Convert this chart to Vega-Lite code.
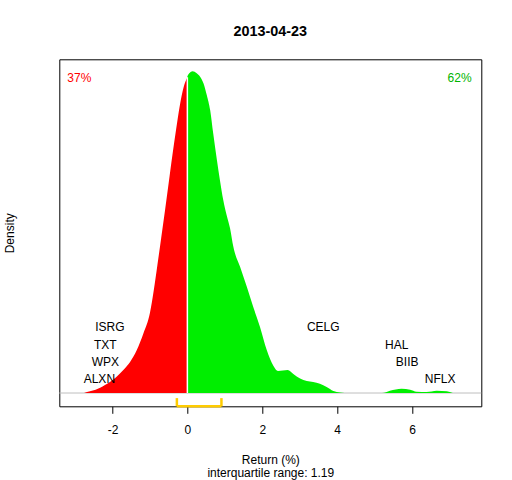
{
  "$schema": "https://vega.github.io/schema/vega-lite/v6.json",
  "autosize": {"type": "none"},
  "padding": {"left": 59.3, "top": 59.3, "right": 30.7, "bottom": 73.7},
  "width": 422,
  "height": 347,
  "background": "white",
  "title": {
    "text": "2013-04-23",
    "fontSize": 14.4,
    "fontWeight": "bold",
    "font": "Liberation Sans",
    "color": "black",
    "anchor": "middle",
    "frame": "group",
    "baseline": "alphabetic",
    "offset": 9
  },
  "config": {
    "font": "Liberation Sans",
    "view": {"stroke": "black", "strokeWidth": 1},
    "axis": {"grid": false}
  },
  "datasets": {
    "dens": [
      {"x": -2.76, "y": 0, "side": "neg"},
      {"x": -2.6, "y": 0.0024, "side": "neg"},
      {"x": -2.45, "y": 0.0046, "side": "neg"},
      {"x": -2.33, "y": 0.0076, "side": "neg"},
      {"x": -2.2, "y": 0.0114, "side": "neg"},
      {"x": -2.06, "y": 0.0161, "side": "neg"},
      {"x": -1.89, "y": 0.0233, "side": "neg"},
      {"x": -1.71, "y": 0.0329, "side": "neg"},
      {"x": -1.53, "y": 0.0443, "side": "neg"},
      {"x": -1.35, "y": 0.0614, "side": "neg"},
      {"x": -1.17, "y": 0.0857, "side": "neg"},
      {"x": -1.0, "y": 0.1143, "side": "neg"},
      {"x": -0.9, "y": 0.1457, "side": "neg"},
      {"x": -0.8, "y": 0.1829, "side": "neg"},
      {"x": -0.7, "y": 0.2214, "side": "neg"},
      {"x": -0.6, "y": 0.26, "side": "neg"},
      {"x": -0.5, "y": 0.3, "side": "neg"},
      {"x": -0.4, "y": 0.34, "side": "neg"},
      {"x": -0.3, "y": 0.3771, "side": "neg"},
      {"x": -0.2, "y": 0.4114, "side": "neg"},
      {"x": -0.1, "y": 0.4371, "side": "neg"},
      {"x": 0.0, "y": 0.4514, "side": "neg"},
      {"x": 0.0, "y": 0.4529, "side": "pos"},
      {"x": 0.05, "y": 0.4571, "side": "pos"},
      {"x": 0.14, "y": 0.46, "side": "pos"},
      {"x": 0.25, "y": 0.4571, "side": "pos"},
      {"x": 0.34, "y": 0.4523, "side": "pos"},
      {"x": 0.43, "y": 0.4429, "side": "pos"},
      {"x": 0.52, "y": 0.4257, "side": "pos"},
      {"x": 0.61, "y": 0.4043, "side": "pos"},
      {"x": 0.69, "y": 0.3714, "side": "pos"},
      {"x": 0.79, "y": 0.3329, "side": "pos"},
      {"x": 0.87, "y": 0.3043, "side": "pos"},
      {"x": 0.96, "y": 0.2757, "side": "pos"},
      {"x": 1.05, "y": 0.2543, "side": "pos"},
      {"x": 1.14, "y": 0.2357, "side": "pos"},
      {"x": 1.23, "y": 0.2086, "side": "pos"},
      {"x": 1.41, "y": 0.18, "side": "pos"},
      {"x": 1.59, "y": 0.1514, "side": "pos"},
      {"x": 1.76, "y": 0.1229, "side": "pos"},
      {"x": 1.94, "y": 0.0943, "side": "pos"},
      {"x": 2.12, "y": 0.0614, "side": "pos"},
      {"x": 2.3, "y": 0.0386, "side": "pos"},
      {"x": 2.42, "y": 0.0314, "side": "pos"},
      {"x": 2.55, "y": 0.0321, "side": "pos"},
      {"x": 2.68, "y": 0.0329, "side": "pos"},
      {"x": 2.83, "y": 0.0271, "side": "pos"},
      {"x": 3.01, "y": 0.0206, "side": "pos"},
      {"x": 3.19, "y": 0.0171, "side": "pos"},
      {"x": 3.36, "y": 0.0157, "side": "pos"},
      {"x": 3.54, "y": 0.0133, "side": "pos"},
      {"x": 3.72, "y": 0.0086, "side": "pos"},
      {"x": 3.9, "y": 0.0029, "side": "pos"},
      {"x": 4.08, "y": 0.0007, "side": "pos"},
      {"x": 4.2, "y": 0, "side": "pos"},
      {"x": 5.2, "y": 0, "side": "pos"},
      {"x": 5.41, "y": 0.0033, "side": "pos"},
      {"x": 5.72, "y": 0.0061, "side": "pos"},
      {"x": 5.95, "y": 0.0047, "side": "pos"},
      {"x": 6.12, "y": 0.0019, "side": "pos"},
      {"x": 6.39, "y": 0.0014, "side": "pos"},
      {"x": 6.66, "y": 0.0033, "side": "pos"},
      {"x": 6.93, "y": 0.0024, "side": "pos"},
      {"x": 7.09, "y": 0, "side": "pos"}
    ],
    "stocks": [
      {"label": "ISRG", "x": -2.07, "y": 0.0941},
      {"label": "TXT", "x": -2.19, "y": 0.0693},
      {"label": "WPX", "x": -2.19, "y": 0.0446},
      {"label": "ALXN", "x": -2.35, "y": 0.0203},
      {"label": "CELG", "x": 3.63, "y": 0.0941},
      {"label": "HAL", "x": 5.59, "y": 0.0693},
      {"label": "BIIB", "x": 5.87, "y": 0.0446},
      {"label": "NFLX", "x": 6.75, "y": 0.0203}
    ],
    "base": [{"y": 0}],
    "iqr": [{"q1": -0.28, "q3": 0.91}],
    "iqrEnds": [{"x": -0.28}, {"x": 0.91}],
    "split": [{"x": 0, "y": 0, "y2": 0.4514}],
    "pctNeg": [{"label": "37%", "x": -2.885, "y": 0.4507}],
    "pctPos": [{"label": "62%", "x": 7.27, "y": 0.4507}]
  },
  "layer": [
    {
      "data": {"name": "base"},
      "mark": {"type": "rule", "color": "#BEBEBE", "strokeWidth": 1},
      "encoding": {
        "y": {"field": "y", "type": "quantitative", "scale": {"domain": [-0.019, 0.4771], "nice": false, "zero": false}}
      }
    },
    {
      "data": {"name": "dens"},
      "mark": {"type": "area", "interpolate": "monotone"},
      "encoding": {
        "x": {
          "field": "x",
          "type": "quantitative",
          "scale": {"domain": [-3.42, 7.85], "nice": false, "zero": false},
          "axis": {
            "title": ["Return (%)", "interquartile range: 1.19"],
            "values": [-2, 0, 2, 4, 6],
            "labelExpr": "toString(datum.value)",
            "domain": false,
            "tickSize": 7,
            "tickColor": "black",
            "labelPadding": 11,
            "labelFontSize": 12,
            "labelColor": "black",
            "labelFont": "Liberation Sans",
            "titleFont": "Liberation Sans",
            "titleFontSize": 12,
            "titleFontWeight": "normal",
            "titleColor": "black",
            "titlePadding": 19,
            "titleLineHeight": 13.5
          }
        },
        "y": {
          "field": "y",
          "type": "quantitative",
          "stack": null,
          "scale": {"domain": [-0.019, 0.4771], "nice": false, "zero": false},
          "axis": {
            "title": "Density",
            "labels": false,
            "ticks": false,
            "domain": false,
            "titleFont": "Liberation Sans",
            "titleFontSize": 12,
            "titleFontWeight": "normal",
            "titleColor": "black",
            "titlePadding": 43
          }
        },
        "color": {
          "field": "side",
          "type": "nominal",
          "scale": {"domain": ["neg", "pos"], "range": ["#FF0000", "#00EE00"]},
          "legend": null
        }
      }
    },
    {
      "data": {"name": "split"},
      "mark": {"type": "rule", "color": "white", "strokeWidth": 1.5},
      "encoding": {
        "x": {"field": "x", "type": "quantitative", "scale": {"domain": [-3.42, 7.85], "nice": false, "zero": false}},
        "y": {"field": "y", "type": "quantitative", "scale": {"domain": [-0.019, 0.4771], "nice": false, "zero": false}},
        "y2": {"field": "y2"}
      }
    },
    {
      "data": {"name": "iqr"},
      "mark": {"type": "rule", "color": "#FFCC00", "strokeWidth": 2.5},
      "encoding": {
        "x": {"field": "q1", "type": "quantitative", "scale": {"domain": [-3.42, 7.85], "nice": false, "zero": false}},
        "x2": {"field": "q3"},
        "y": {"datum": -0.019, "type": "quantitative", "scale": {"domain": [-0.019, 0.4771], "nice": false, "zero": false}}
      }
    },
    {
      "data": {"name": "iqrEnds"},
      "mark": {"type": "rule", "color": "#FFCC00", "strokeWidth": 2.5},
      "encoding": {
        "x": {"field": "x", "type": "quantitative", "scale": {"domain": [-3.42, 7.85], "nice": false, "zero": false}},
        "y": {"datum": -0.019, "type": "quantitative", "scale": {"domain": [-0.019, 0.4771], "nice": false, "zero": false}},
        "y2": {"datum": -0.0073}
      }
    },
    {
      "data": {"name": "stocks"},
      "mark": {"type": "text", "fontSize": 12, "font": "Liberation Sans", "color": "black", "baseline": "middle", "align": "center"},
      "encoding": {
        "x": {"field": "x", "type": "quantitative", "scale": {"domain": [-3.42, 7.85], "nice": false, "zero": false}},
        "y": {"field": "y", "type": "quantitative", "scale": {"domain": [-0.019, 0.4771], "nice": false, "zero": false}},
        "text": {"field": "label"}
      }
    },
    {
      "data": {"name": "pctNeg"},
      "mark": {"type": "text", "fontSize": 12, "font": "Liberation Sans", "color": "#FF0000", "baseline": "middle", "align": "center"},
      "encoding": {
        "x": {"field": "x", "type": "quantitative", "scale": {"domain": [-3.42, 7.85], "nice": false, "zero": false}},
        "y": {"field": "y", "type": "quantitative", "scale": {"domain": [-0.019, 0.4771], "nice": false, "zero": false}},
        "text": {"field": "label"}
      }
    },
    {
      "data": {"name": "pctPos"},
      "mark": {"type": "text", "fontSize": 12, "font": "Liberation Sans", "color": "#00B400", "baseline": "middle", "align": "center"},
      "encoding": {
        "x": {"field": "x", "type": "quantitative", "scale": {"domain": [-3.42, 7.85], "nice": false, "zero": false}},
        "y": {"field": "y", "type": "quantitative", "scale": {"domain": [-0.019, 0.4771], "nice": false, "zero": false}},
        "text": {"field": "label"}
      }
    }
  ]
}
